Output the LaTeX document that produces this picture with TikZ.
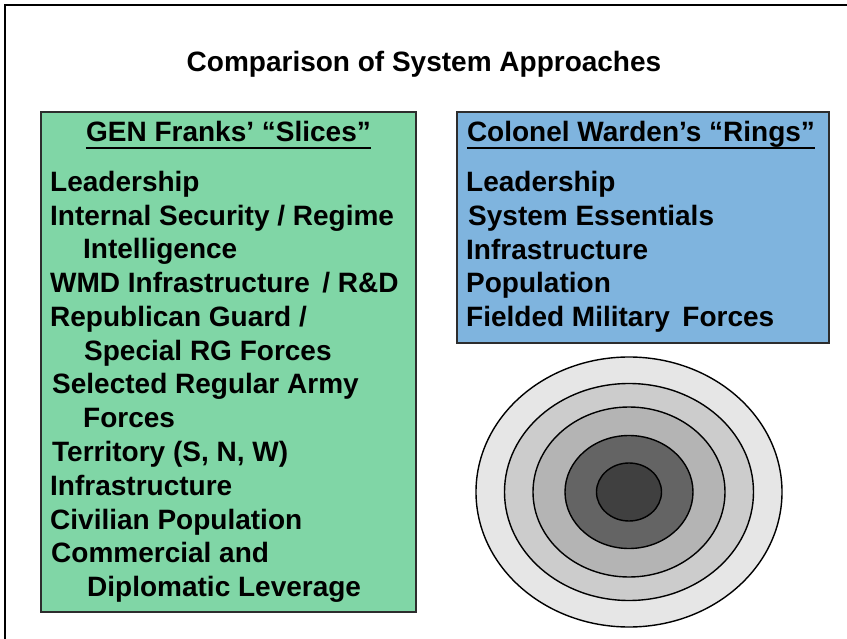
\documentclass[tikz,border=0pt]{standalone}
\usepackage{fontspec}
\setmainfont{Liberation Sans}
\usetikzlibrary{positioning,shapes.geometric}
\definecolor{slicegreen}{RGB}{128,214,166}
\definecolor{ringblue}{RGB}{127,180,222}
\definecolor{paneledge}{RGB}{45,45,45}
\definecolor{ringa}{RGB}{230,230,230}
\definecolor{ringb}{RGB}{204,204,204}
\definecolor{ringc}{RGB}{180,180,180}
\definecolor{ringd}{RGB}{100,100,100}
\definecolor{ringe}{RGB}{64,64,64}

\begin{document}
\begin{tikzpicture}[x=1pt, y=-1pt,
      panel/.style={draw=paneledge, line width=1.3pt},
      heading/.style={inner sep=0pt, anchor=base,
                      font=\bfseries\fontsize{28}{33}\selectfont},
      item/.style={inner sep=0pt, anchor=base west,
                   font=\bfseries\fontsize{28}{33}\selectfont},
      ring/.style={ellipse, draw=black, line width=1.4pt, inner sep=0pt}
    ]
    \useasboundingbox (0,0) rectangle (847,639);
    % frame, cut by the page edge on the right and at the bottom
    \draw[line width=2.2pt] (5,639) -- (5,5) -- (847,5);

    \node[inner sep=0pt, anchor=base, font=\bfseries\fontsize{28}{33}\selectfont]
      (title) at (424,72) {Comparison of System Approaches};

    % left panel
    \path[panel, fill=slicegreen] (41,112) rectangle (416,612);
    \node[heading] (slices) at (228.5,142) {GEN Franks’ “Slices”};
    \draw[line width=2pt] ([yshift=-6pt]slices.base west) -- ([yshift=-6pt]slices.base east);
    \node[item] (s1)  at (50,192)   {Leadership};
    \node[item] (s2)  at (50,226)   {Internal Security / Regime};
    \node[item] (s3)  at (83,259)   {Intelligence};
    \node[item] (s4)  at (50,293)   {WMD Infrastructure\, / R\&D};
    \node[item] (s5)  at (50,327)   {Republican Guard /};
    \node[item] (s6)  at (84,360)   {Special RG Forces};
    \node[item] (s7)  at (52,394)   {Selected Regular Army};
    \node[item] (s8)  at (83,428)   {Forces};
    \node[item] (s9)  at (52,461)   {Territory (S, N, W)};
    \node[item] (s10) at (50,495)   {Infrastructure};
    \node[item] (s11) at (50,529)   {Civilian Population};
    \node[item] (s12) at (51,562)   {Commercial and};
    \node[item] (s13) at (87,596)   {Diplomatic Leverage};

    % right panel
    \path[panel, fill=ringblue] (457,112) rectangle (829,343);
    \node[heading] (rings) at (641,142) {Colonel Warden’s “Rings”};
    \draw[line width=2pt] ([yshift=-6pt]rings.base west) -- ([yshift=-6pt]rings.base east);
    \node[item] (r1) at (466,192) {Leadership};
    \node[item] (r2) at (468,226) {System Essentials};
    \node[item] (r3) at (466,260) {Infrastructure};
    \node[item] (r4) at (466,293) {Population};
    \node[item] (r5) at (466,327) {Fielded Military\, Forces};

    % concentric rings
    \node[ring, fill=ringa, minimum width=306pt, minimum height=270pt] (ring1) at (629,492) {};
    \node[ring, fill=ringb, minimum width=249pt, minimum height=217pt] (ring2) at (629,492) {};
    \node[ring, fill=ringc, minimum width=192pt, minimum height=170pt] (ring3) at (629,492) {};
    \node[ring, fill=ringd, minimum width=128pt, minimum height=113pt] (ring4) at (629,492) {};
    \node[ring, fill=ringe, minimum width=65pt,  minimum height=58pt]  (ring5) at (629,492) {};
  \end{tikzpicture}
\end{document}
